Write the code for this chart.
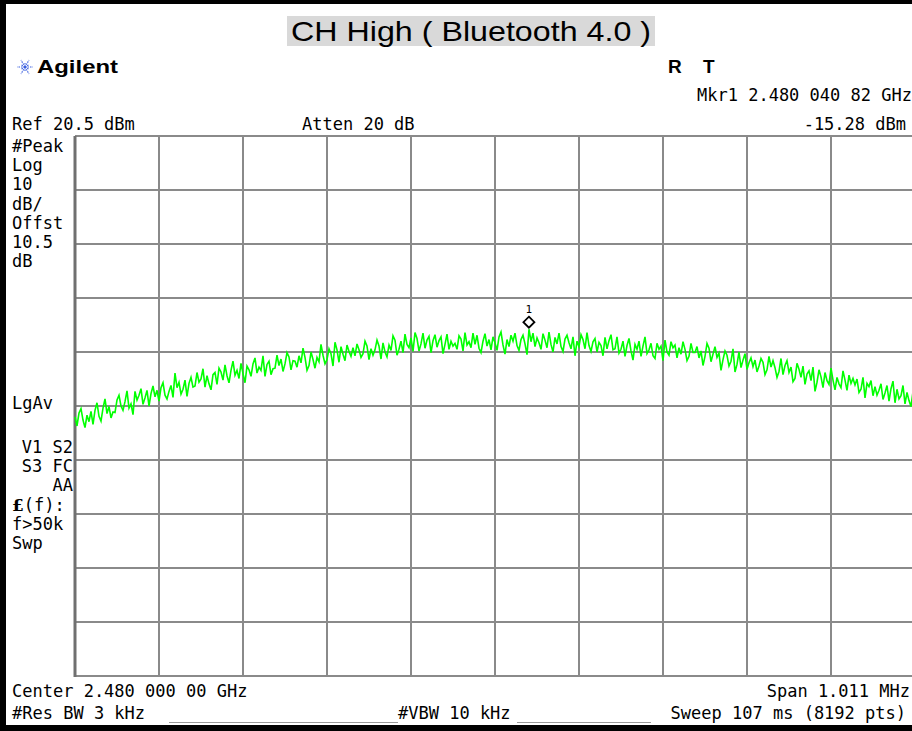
<!DOCTYPE html>
<html>
<head>
<meta charset="utf-8">
<script src="https://cdn.jsdelivr.net/npm/d3@7"></script>
<style>
	body { margin: 0; background: #fff; }
</style>
</head>
<body>
<div id="chart"></div>
<script>
// analyzer settings
const centerGHz = 2.48;
const spanMHz = 1.011;
const refLevel = 20.5;
const dbPerDiv = 10;
const divisions = 10;
const markerGHz = 2.48004082;
const markerDbm = -15.28;

// left column annotations
const sideTop = ["#Peak", "Log", "10", "dB/", "Offst", "10.5", "dB"];
const sideBottom = ["f>50k", "Swp"];

// trace, dBm, 421 sweep points over the span
const traceDbm = [
	-31.5, -33.2, -30.8, -30.0, -32.1, -33.5, -31.2, -32.4, -30.5, -32.9,
	-30.3, -28.9, -31.4, -32.3, -29.9, -28.2, -30.9, -29.6, -31.7, -30.6,
	-30.7, -28.4, -27.5, -29.5, -30.3, -28.7, -26.7, -29.9, -29.1, -31.1,
	-26.8, -28.4, -27.5, -26.3, -29.2, -28.0, -26.6, -29.5, -27.2, -25.8,
	-27.8, -26.6, -28.6, -26.1, -25.2, -27.5, -28.2, -26.8, -25.7, -27.9,
	-23.4, -26.1, -25.1, -27.3, -26.4, -24.7, -27.7, -25.3, -24.2, -26.0,
	-25.8, -23.3, -25.1, -24.5, -22.6, -26.0, -23.9, -25.4, -26.5, -23.7,
	-23.3, -25.5, -22.5, -23.2, -24.7, -21.9, -23.9, -25.2, -22.9, -21.2,
	-23.8, -22.9, -24.4, -21.6, -23.5, -25.2, -22.1, -22.8, -24.0, -21.7,
	-20.6, -23.4, -22.3, -22.9, -20.2, -24.0, -21.8, -21.2, -23.7, -22.6,
	-22.5, -20.1, -22.0, -20.8, -23.1, -21.7, -19.6, -20.4, -22.8, -21.1,
	-21.2, -22.3, -20.2, -21.5, -18.8, -20.5, -22.9, -22.0, -19.5, -20.9,
	-22.5, -20.5, -21.3, -18.1, -20.1, -21.7, -20.9, -18.9, -19.8, -22.1,
	-17.7, -19.1, -21.4, -18.5, -19.9, -21.1, -18.2, -19.4, -20.3, -18.7,
	-20.2, -18.0, -19.1, -20.5, -19.8, -17.5, -18.4, -20.9, -18.9, -20.1,
	-19.1, -17.3, -18.4, -20.8, -17.8, -19.5, -20.4, -18.2, -19.2, -16.5,
	-17.3, -20.1, -19.0, -17.5, -19.6, -16.2, -18.1, -18.7, -16.9, -19.4,
	-15.9, -17.0, -19.3, -18.0, -16.0, -18.8, -17.3, -16.6, -19.6, -17.4,
	-16.3, -18.6, -17.4, -16.7, -19.8, -18.1, -16.2, -19.0, -17.5, -18.4,
	-17.9, -19.0, -16.5, -17.1, -19.3, -15.9, -18.2, -17.6, -18.7, -16.0,
	-18.1, -16.4, -18.8, -19.6, -17.5, -16.1, -18.4, -17.2, -19.1, -16.7,
	-17.8, -19.2, -16.7, -15.8, -18.2, -19.9, -17.2, -18.5, -16.4, -17.5,
	-16.0, -18.3, -19.2, -17.2, -16.4, -18.0, -20.0, -15.28, -17.6, -16.0,
	-18.5, -16.9, -17.8, -19.0, -16.1, -17.3, -18.7, -15.8, -18.1, -19.5,
	-16.8, -18.0, -16.0, -18.5, -19.4, -17.1, -16.4, -17.8, -18.9, -16.7,
	-20.2, -17.5, -18.5, -16.3, -17.2, -18.9, -15.9, -18.3, -19.4, -17.6,
	-17.0, -19.5, -17.7, -18.3, -20.2, -16.8, -18.9, -17.4, -16.3, -19.1,
	-18.9, -16.7, -19.7, -19.0, -17.5, -20.3, -18.3, -17.0, -19.3, -21.0,
	-18.1, -19.0, -17.5, -20.3, -18.4, -16.7, -19.8, -19.1, -17.9, -20.2,
	-20.7, -17.9, -19.0, -18.4, -21.1, -17.3, -19.5, -20.1, -17.6, -18.7,
	-18.2, -20.6, -18.7, -19.9, -17.6, -19.0, -21.1, -20.3, -17.9, -19.6,
	-19.6, -18.5, -20.6, -19.3, -22.0, -20.3, -17.9, -18.8, -21.3, -19.9,
	-18.5, -20.5, -19.7, -22.9, -20.9, -19.3, -20.1, -22.1, -21.2, -18.9,
	-23.2, -21.8, -19.5, -22.4, -21.0, -19.8, -22.7, -21.5, -20.6, -22.2,
	-21.0, -23.2, -22.1, -20.7, -21.4, -23.7, -22.8, -20.3, -22.3, -21.1,
	-22.4, -24.2, -23.1, -20.7, -23.7, -22.0, -21.1, -23.3, -22.3, -25.0,
	-24.4, -21.6, -22.7, -24.2, -22.1, -25.5, -23.6, -23.0, -24.8, -22.3,
	-26.8, -25.1, -22.8, -24.1, -26.1, -23.3, -24.8, -25.5, -22.5, -24.7,
	-26.5, -24.2, -25.4, -26.1, -23.0, -24.7, -26.6, -23.8, -25.3, -24.4,
	-25.6, -24.5, -27.0, -26.4, -24.2, -28.0, -25.3, -25.9, -24.8, -27.6,
	-25.9, -27.5, -26.6, -25.4, -28.3, -27.1, -25.7, -28.6, -26.3, -24.9,
	-28.9, -26.4, -28.2, -27.6, -25.7, -29.1, -27.0, -28.5, -29.6, -26.8,
	-28.4
];

const width = 912, height = 731;
const plot = { left: 75, top: 136, width: 840, height: 540 };
const mono = "'DejaVu Sans Mono', monospace";

const svg = d3
	.select("#chart")
	.append("svg")
	.attr("width", width)
	.attr("height", height)
	.style("display", "block");

svg.append("rect").attr("width", width).attr("height", height).attr("fill", "#fff");

// scales: frequency offset in MHz from center, level in dBm
const x = d3
	.scaleLinear()
	.domain([-spanMHz / 2, spanMHz / 2])
	.range([plot.left, plot.left + plot.width]);
const y = d3
	.scaleLinear()
	.domain([refLevel - dbPerDiv * divisions, refLevel])
	.range([plot.top + plot.height, plot.top]);

// ---- title box
svg.append("rect")
	.attr("x", 287).attr("y", 16)
	.attr("width", 368).attr("height", 30)
	.attr("fill", "#d9d9d9");
svg.append("text")
	.attr("x", 471).attr("y", 41)
	.attr("text-anchor", "middle")
	.attr("font-family", "'Liberation Sans', Arial, sans-serif")
	.attr("font-size", 28)
	.attr("textLength", 360)
	.attr("lengthAdjust", "spacingAndGlyphs")
	.text("CH High ( Bluetooth 4.0 )");

// ---- logo + header
const logo = svg.append("g").attr("transform", "translate(25,67)");
d3.range(12).forEach((k) => {
	const a = (k * Math.PI) / 6;
	const r = k % 2 ? 5 : 8;
	logo.append("line")
		.attr("x1", 0).attr("y1", 0)
		.attr("x2", r * Math.cos(a)).attr("y2", r * Math.sin(a))
		.attr("stroke", "#3a5fe0")
		.attr("stroke-width", 1.1)
		.attr("stroke-dasharray", "1.5,1");
});
svg.append("text")
	.attr("x", 37).attr("y", 73)
	.attr("font-family", "'Liberation Sans Narrow', 'Liberation Sans', Arial, sans-serif")
	.attr("font-weight", "bold")
	.attr("font-size", 19)
	.attr("textLength", 81)
	.attr("lengthAdjust", "spacingAndGlyphs")
	.text("Agilent");
["R", "T"].forEach((t, i) => {
	svg.append("text")
		.attr("x", 668 + i * 35).attr("y", 73)
		.attr("font-family", "'Liberation Sans', Arial, sans-serif")
		.attr("font-weight", "bold")
		.attr("font-size", 19)
		.text(t);
});

function monoText(txt, xx, yy, anchor) {
	return svg.append("text")
		.attr("x", xx).attr("y", yy)
		.attr("text-anchor", anchor || "start")
		.attr("font-family", mono)
		.attr("font-size", 17)
		.attr("fill", "#000")
		.text(txt);
}

const mkrOffsetMHz = (markerGHz - centerGHz) * 1000;
monoText("Mkr1 2.480 040 82 GHz", 697, 101);
monoText(`${markerDbm.toFixed(2)} dBm`, 906, 130, "end");
monoText(`Ref ${refLevel} dBm`, 12, 130);
monoText("Atten 20 dB", 302, 130);

// ---- graticule
const xTicks = d3.range(divisions + 1).map((i) => -spanMHz / 2 + (i * spanMHz) / divisions);
const yTicks = d3.range(divisions + 1).map((i) => refLevel - i * dbPerDiv);
const grid = svg.append("g").attr("stroke", "#8a8a8a").attr("stroke-width", 2);
grid.selectAll(".v")
	.data(xTicks)
	.join("line")
	.attr("x1", (d) => x(d)).attr("x2", (d) => x(d))
	.attr("y1", plot.top).attr("y2", plot.top + plot.height);
grid.selectAll(".h")
	.data(yTicks)
	.join("line")
	.attr("x1", plot.left).attr("x2", plot.left + plot.width)
	.attr("y1", (d) => y(d)).attr("y2", (d) => y(d));
svg.append("line")
	.attr("x1", plot.left).attr("x2", plot.left)
	.attr("y1", plot.top).attr("y2", plot.top + plot.height + 1)
	.attr("stroke", "#707070").attr("stroke-width", 3);

// ---- trace
const line = d3
	.line()
	.x((d, i) => x(-spanMHz / 2 + (i * spanMHz) / (traceDbm.length - 1)))
	.y((d) => y(d));
svg.append("path")
	.datum(traceDbm)
	.attr("d", line)
	.attr("fill", "none")
	.attr("stroke", "#00ff00")
	.attr("stroke-width", 1.6)
	.attr("stroke-linejoin", "miter");

// ---- marker 1
const mx = x(mkrOffsetMHz), my = y(markerDbm) - 7;
svg.append("path")
	.attr("d", `M${mx},${my - 5.5}L${mx + 5.5},${my}L${mx},${my + 5.5}L${mx - 5.5},${my}Z`)
	.attr("fill", "#fff")
	.attr("stroke", "#000")
	.attr("stroke-width", 1.8);
svg.append("text")
	.attr("x", mx).attr("y", my - 9)
	.attr("text-anchor", "middle")
	.attr("font-family", mono)
	.attr("font-size", 11)
	.text("1");

// ---- left column
sideTop.forEach((t, i) => monoText(t, 12, 152 + i * 19.2));
monoText("LgAv", 12, 409);
monoText("V1  S2", 73, 453, "end");
monoText("S3  FC", 73, 472, "end");
monoText("AA", 73, 491, "end");
const ef = monoText("", 12, 511);
ef.append("tspan").attr("font-weight", "bold").attr("font-family", "'DejaVu Serif', serif").text("£");
ef.append("tspan").text("(f):");
sideBottom.forEach((t, i) => monoText(t, 12, 530 + i * 19));

// ---- bottom annotations
monoText(`Center ${centerGHz.toFixed(3)} 000 00 GHz`, 12, 697);
monoText(`Span ${spanMHz} MHz`, 910, 697, "end");
monoText("#Res BW 3 kHz", 12, 719);
monoText("#VBW 10 kHz", 398, 719);
monoText("Sweep 107 ms (8192 pts)", 906, 719, "end");
[[169, 398], [517, 651]].forEach(([a, b]) => {
	svg.append("line")
		.attr("x1", a).attr("x2", b)
		.attr("y1", 722.5).attr("y2", 722.5)
		.attr("stroke", "#999").attr("stroke-width", 1);
});

// ---- black frame (left, top, bottom)
svg.append("rect").attr("x", 0).attr("y", 0).attr("width", 6).attr("height", height).attr("fill", "#000");
svg.append("rect").attr("x", 0).attr("y", 0).attr("width", width).attr("height", 4).attr("fill", "#000");
svg.append("rect").attr("x", 0).attr("y", height - 6).attr("width", width).attr("height", 6).attr("fill", "#000");
</script>
</body>
</html>
